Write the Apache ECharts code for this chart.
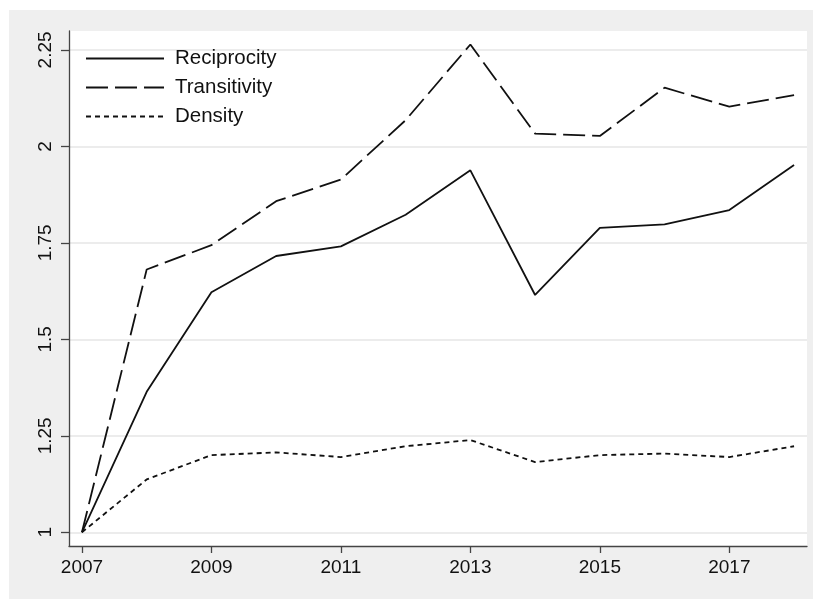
<!DOCTYPE html>
<html>
<head>
<meta charset="utf-8">
<script src="https://cdn.jsdelivr.net/npm/echarts@6/dist/echarts.min.js"></script>
<style>
  html, body { margin: 0; padding: 0; background: #fff; }
  #chart { width: 813px; height: 599px; }
</style>
</head>
<body>
<div id="chart"></div>
<script>
// years on the x axis
const years = [2007, 2008, 2009, 2010, 2011, 2012, 2013, 2014, 2015, 2016, 2017, 2018]
// index values (2007 = 1)
const reciprocity = [1, 1.364, 1.622, 1.716, 1.741, 1.823, 1.938, 1.615, 1.789, 1.798, 1.835, 1.952]
const transitivity = [1, 1.681, 1.744, 1.858, 1.914, 2.068, 2.264, 2.033, 2.027, 2.152, 2.103, 2.133]
const density = [1, 1.137, 1.200, 1.207, 1.195, 1.223, 1.239, 1.182, 1.200, 1.204, 1.195, 1.223]
// tick labels
const xTicks = [2007, 2009, 2011, 2013, 2015, 2017]
const yTicks = [1, 1.25, 1.5, 1.75, 2, 2.25]

const font = 'Liberation Sans, Arial, sans-serif'
const toPairs = vals => years.map((y, i) => [y, vals[i]])

const chart = echarts.init(document.getElementById('chart'))

// one line series, style differs only by dash type
function makeSeries (name, vals, dash) {
  return {
    name: name,
    type: 'line',
    data: toPairs(vals),
    symbol: 'none',
    lineStyle: { color: '#111', width: 1.8, type: dash },
    itemStyle: { color: '#111' },
    animation: false
  }
}

const option = {
  backgroundColor: '#fff',
  graphic: [{
    type: 'rect',
    z: -10,
    silent: true,
    shape: { x: 9, y: 10, width: 804, height: 589 },
    style: { fill: '#efefef' }
  }],
  grid: {
    left: 69,
    right: 6,
    top: 31,
    bottom: 53,
    show: true,
    backgroundColor: '#fff',
    borderWidth: 0
  },
  legend: {
    orient: 'vertical',
    left: 85,
    top: 48,
    padding: 0,
    itemWidth: 78,
    itemHeight: 20,
    itemGap: 8,
    selectedMode: false,
    itemStyle: { opacity: 0 },
    textStyle: { color: '#111', fontSize: 20.5, fontFamily: font, padding: [0, 0, 0, 6] },
    data: ['Reciprocity', 'Transitivity', 'Density']
  },
  xAxis: {
    type: 'value',
    min: 2006.8,
    max: 2018.2,
    axisLine: { show: true, lineStyle: { color: '#444', width: 1.3 } },
    axisTick: { show: true, length: 7, customValues: xTicks, lineStyle: { color: '#444', width: 1.3 } },
    axisLabel: {
      customValues: xTicks,
      formatter: v => String(v),
      color: '#111',
      fontSize: 19,
      fontFamily: font,
      margin: 12
    },
    splitLine: { show: false }
  },
  yAxis: {
    type: 'value',
    min: 0.9645,
    max: 2.299,
    axisLine: { show: true, lineStyle: { color: '#444', width: 1.3 } },
    axisTick: { show: true, length: 8, customValues: yTicks, lineStyle: { color: '#444', width: 1.3 } },
    axisLabel: {
      customValues: yTicks,
      rotate: 90,
      color: '#111',
      fontSize: 19,
      fontFamily: font,
      margin: 14
    },
    splitLine: { show: true, lineStyle: { color: '#e6e6e6', width: 1.5 } }
  },
  series: [
    makeSeries('Reciprocity', reciprocity, 'solid'),
    makeSeries('Transitivity', transitivity, [22, 7]),
    makeSeries('Density', density, [5, 4])
  ]
}

chart.setOption(option)
</script>
</body>
</html>
